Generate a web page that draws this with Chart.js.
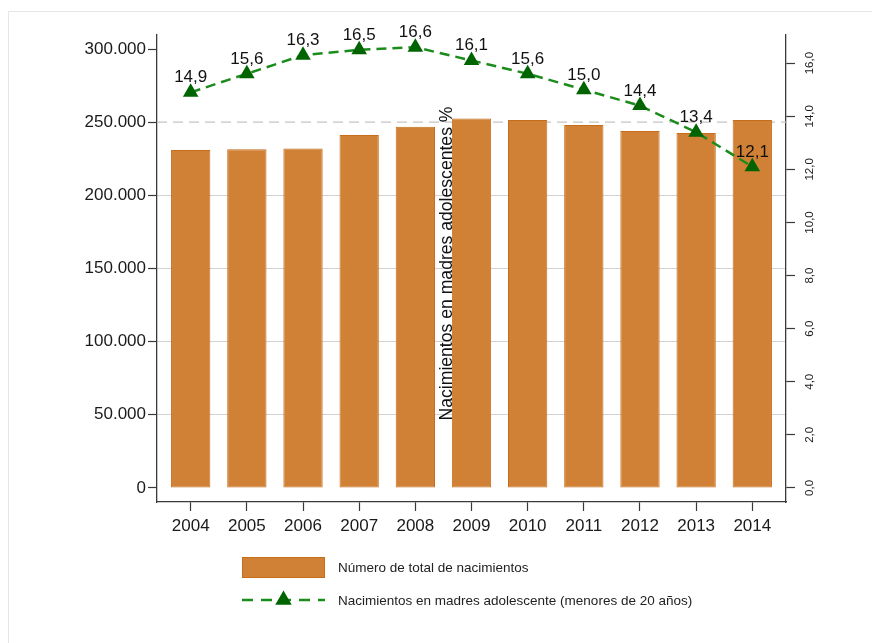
<!DOCTYPE html>
<html>
<head>
<meta charset="utf-8">
<title>Nacimientos</title>
<script src="https://cdn.jsdelivr.net/npm/chart.js@4.4.1/dist/chart.umd.min.js"></script>
<style>
  html, body { margin: 0; padding: 0; background: #fff; }
  #wrap { position: relative; width: 872px; height: 643px; overflow: hidden; }
  #frame { position: absolute; left: 8px; top: 11px; width: 900px; height: 700px;
           border-left: 1px solid #e2e8e8; border-top: 1px solid #e2e8e8; }
  canvas { position: absolute; left: 0; top: 0; }
</style>
</head>
<body>
<div id="wrap">
  <div id="frame"></div>
  <canvas id="chart" width="872" height="643"></canvas>
</div>
<script>
// years and the two series
const years = [2004, 2005, 2006, 2007, 2008, 2009, 2010, 2011, 2012, 2013, 2014];
const births = [231000, 231500, 232100, 241200, 246900, 252600, 251500, 248100, 244000, 242600, 251500];
const teenPct = [14.9, 15.6, 16.3, 16.5, 16.6, 16.1, 15.6, 15.0, 14.4, 13.4, 12.1];

// axis ticks
const birthTicks = [0, 50000, 100000, 150000, 200000, 250000, 300000];
const pctTicks = [0, 2, 4, 6, 8, 10, 12, 14, 16];

const birthLabel = 'Número de total de nacimientos';
const teenLabel = 'Nacimientos en madres adolescente (menores de 20 años)';
const pctTitle = 'Nacimientos en madres adolescentes %';

const FONT = '"Liberation Sans", Arial, sans-serif';
const barFill = '#d08135';
const barEdge = '#c66d1a';
const lineGreen = '#1b8c1b';
const markGreen = '#006400';
const axisColor = '#3a3a3a';

// 300000 -> "300.000", 14.9 -> "14,9"
function thousands(v) {
  return String(v).replace(/\B(?=(\d{3})+(?!\d))/g, '.');
}
function comma1(v) {
  return v.toFixed(1).replace('.', ',');
}

function triangle(ctx, x, y, r) {
  ctx.beginPath();
  ctx.moveTo(x, y - r);
  ctx.lineTo(x + r * Math.sin(Math.PI / 3), y + r / 2);
  ctx.lineTo(x - r * Math.sin(Math.PI / 3), y + r / 2);
  ctx.closePath();
  ctx.fill();
}

// dashed reference line at 250.000, behind the bars
const refLine = {
  id: 'refLine',
  beforeDatasetsDraw(chart) {
    const { ctx, chartArea } = chart;
    const y = chart.scales.y.getPixelForValue(250000);
    ctx.save();
    ctx.strokeStyle = '#c4c4c4';
    ctx.lineWidth = 1.3;
    ctx.setLineDash([10, 6]);
    ctx.beginPath();
    ctx.moveTo(chartArea.left, y);
    ctx.lineTo(chartArea.right, y);
    ctx.stroke();
    ctx.restore();
  }
};

// value labels above the triangles
const pointLabels = {
  id: 'pointLabels',
  afterDatasetsDraw(chart) {
    const { ctx } = chart;
    const meta = chart.getDatasetMeta(0);
    ctx.save();
    ctx.font = '17px ' + FONT;
    ctx.fillStyle = '#111';
    ctx.textAlign = 'center';
    ctx.textBaseline = 'alphabetic';
    meta.data.forEach((pt, i) => {
      ctx.fillText(comma1(teenPct[i]), pt.x, pt.y - 10);
    });
    ctx.restore();
  }
};

// title of the % axis, drawn in the middle of the plot
const pctAxisTitle = {
  id: 'pctAxisTitle',
  afterDatasetsDraw(chart) {
    const { ctx, chartArea } = chart;
    ctx.save();
    ctx.translate(447, (chartArea.top + chartArea.bottom) / 2 - 5);
    ctx.rotate(-Math.PI / 2);
    ctx.font = '17.6px ' + FONT;
    ctx.fillStyle = '#111';
    ctx.textAlign = 'center';
    ctx.textBaseline = 'middle';
    ctx.fillText(pctTitle, 0, 0);
    ctx.restore();
  }
};

// two-row legend under the x axis
const stackedLegend = {
  id: 'stackedLegend',
  afterDraw(chart) {
    const { ctx } = chart;
    const x0 = 242, x1 = 325, tx = 338;
    ctx.save();
    ctx.fillStyle = barFill;
    ctx.fillRect(x0, 557, x1 - x0, 21);
    ctx.strokeStyle = barEdge;
    ctx.lineWidth = 1;
    ctx.strokeRect(x0 + 0.5, 557.5, x1 - x0 - 1, 20);

    ctx.strokeStyle = lineGreen;
    ctx.lineWidth = 2.5;
    ctx.setLineDash([11, 8]);
    ctx.beginPath();
    ctx.moveTo(x0, 600);
    ctx.lineTo(x1, 600);
    ctx.stroke();
    ctx.setLineDash([]);
    ctx.fillStyle = markGreen;
    triangle(ctx, (x0 + x1) / 2, 600, 9.5);

    ctx.font = '13.5px ' + FONT;
    ctx.fillStyle = '#222';
    ctx.textAlign = 'left';
    ctx.textBaseline = 'middle';
    ctx.fillText(chart.data.datasets[1].label, tx, 568);
    ctx.fillText(chart.data.datasets[0].label, tx, 601);
    ctx.restore();
  }
};

new Chart(document.getElementById('chart'), {
  type: 'bar',
  data: {
    datasets: [
      {
        type: 'line',
        label: teenLabel,
        data: teenPct.map((v, i) => ({ x: years[i], y: v })),
        yAxisID: 'y1',
        order: 0,
        borderColor: lineGreen,
        borderWidth: 2.5,
        borderDash: [10, 6],
        tension: 0,
        fill: false,
        pointStyle: 'triangle',
        pointRadius: 9,
        pointBackgroundColor: markGreen,
        pointBorderColor: markGreen,
        pointBorderWidth: 0
      },
      {
        label: birthLabel,
        data: births.map((v, i) => ({ x: years[i], y: v })),
        yAxisID: 'y',
        order: 1,
        backgroundColor: barFill,
        borderColor: barEdge,
        borderWidth: 1,
        borderSkipped: false,
        categoryPercentage: 1,
        barPercentage: 0.7
      }
    ]
  },
  options: {
    responsive: false,
    animation: false,
    events: [],
    layout: { padding: { top: 35, bottom: 101, left: 0, right: 0 } },
    plugins: {
      legend: { display: false },
      tooltip: { enabled: false }
    },
    scales: {
      x: {
        type: 'linear',
        min: 2003.4,
        max: 2014.6,
        offset: false,
        afterBuildTicks: (s) => { s.ticks = years.map(v => ({ value: v })); },
        afterFit: (s) => { s.height = 40; },
        border: { display: true, color: axisColor, width: 1.3 },
        grid: { display: true, offset: false, drawOnChartArea: false, drawTicks: true,
                tickLength: 9, tickColor: axisColor, tickWidth: 1.2 },
        ticks: { font: { family: FONT, size: 17 }, color: '#1a1a1a', padding: 5,
                 callback: (v) => String(v) }
      },
      y: {
        type: 'linear',
        position: 'left',
        min: -9600,
        max: 309600,
        afterBuildTicks: (s) => { s.ticks = birthTicks.map(v => ({ value: v })); },
        afterFit: (s) => { s.width = 157; },
        border: { display: true, color: axisColor, width: 1.3 },
        grid: {
          drawTicks: true,
          tickLength: 9,
          tickColor: axisColor,
          tickWidth: 1.2,
          lineWidth: 1,
          color: (c) => {
            const v = c.tick && c.tick.value;
            if (v === 0 || v === 250000 || v === 300000) return 'rgba(0,0,0,0)';
            return '#d2d2d2';
          }
        },
        ticks: { font: { family: FONT, size: 17 }, color: '#1a1a1a', padding: 2,
                 callback: (v) => thousands(v) }
      },
      y1: {
        type: 'linear',
        position: 'right',
        min: -0.53,
        max: 17.06,
        afterBuildTicks: (s) => { s.ticks = pctTicks.map(v => ({ value: v })); },
        afterFit: (s) => { s.width = 86; },
        border: { display: true, color: axisColor, width: 1.3 },
        grid: { drawOnChartArea: false, drawTicks: true, tickLength: 9,
                tickColor: axisColor, tickWidth: 1.2 },
        ticks: { font: { family: FONT, size: 11.5 }, color: '#1a1a1a', padding: 4,
                 minRotation: 90, maxRotation: 90, crossAlign: 'center',
                 callback: (v) => comma1(v) }
      }
    }
  },
  plugins: [refLine, pointLabels, pctAxisTitle, stackedLegend]
});
</script>
</body>
</html>
